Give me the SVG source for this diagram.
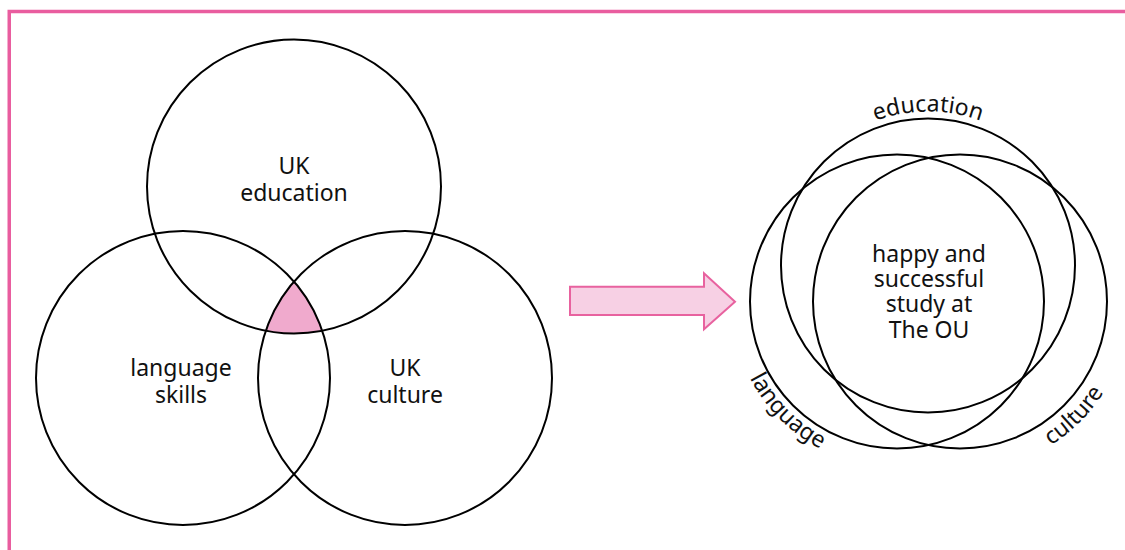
<svg xmlns="http://www.w3.org/2000/svg" width="1125" height="550" viewBox="0 0 1125 550">
  <style>
    .c { fill: none; stroke: #000; stroke-width: 2; }
    .t { font-family: "Noto Sans", "DejaVu Sans", sans-serif; font-size: 23px; fill: #111; text-anchor: middle; }
  </style>
  <defs>
    <path id="pEdu" d="M774,265.5 A154,154 0 0 1 1082,265.5"/>
    <path id="pLang" d="M731,301.5 A166,166 0 0 0 897,467.5"/>
    <path id="pCult" d="M960,471.5 A170,170 0 0 0 1130,301.5"/>
  </defs>
  <rect width="1125" height="550" fill="#fff"/>
  <g id="frame">
    <path d="M9.25,550 V11.5 H1125" fill="none" stroke="#e95d9f" stroke-width="3.5"/>
  </g>

  <g id="venn-left">
    <g id="intersection">
      <path d="M294,281.6 A147,147 0 0 0 265.8,330.8 A147,147 0 0 0 322.2,330.8 A147,147 0 0 0 294,281.6 Z" fill="#f0aacd"/>
    </g>
    <g id="uk-education">
      <circle class="c" cx="294" cy="186.5" r="147"/>
      <text class="t" x="294" y="174">UK</text>
      <text class="t" x="294" y="201">education</text>
    </g>
    <g id="language-skills">
      <circle class="c" cx="183" cy="378" r="147"/>
      <text class="t" x="181" y="376">language</text>
      <text class="t" x="181" y="403">skills</text>
    </g>
    <g id="uk-culture">
      <circle class="c" cx="405" cy="378" r="147"/>
      <text class="t" x="405" y="376">UK</text>
      <text class="t" x="405" y="403">culture</text>
    </g>
  </g>

  <g id="connectors">
    <path id="arrow" d="M570,286.7 H704 V273.3 L735,301.7 L704,329.3 V315 H570 Z" fill="#f7d0e4" stroke="#e8629f" stroke-width="2" stroke-linejoin="miter"/>
  </g>

  <g id="venn-right">
    <g id="education">
      <circle class="c" cx="928" cy="265.5" r="147"/>
      <text class="t"><textPath href="#pEdu" startOffset="50%">education</textPath></text>
    </g>
    <g id="language">
      <circle class="c" cx="897" cy="301.5" r="147"/>
      <text class="t"><textPath href="#pLang" startOffset="50%">language</textPath></text>
    </g>
    <g id="culture">
      <circle class="c" cx="960" cy="301.5" r="147"/>
      <text class="t"><textPath href="#pCult" startOffset="50%">culture</textPath></text>
    </g>
    <g id="centre-label">
      <text class="t" x="929" y="261.5">happy and</text>
      <text class="t" x="929" y="287">successful</text>
      <text class="t" x="929" y="312">study at</text>
      <text class="t" x="929" y="338">The OU</text>
    </g>
  </g>
</svg>
